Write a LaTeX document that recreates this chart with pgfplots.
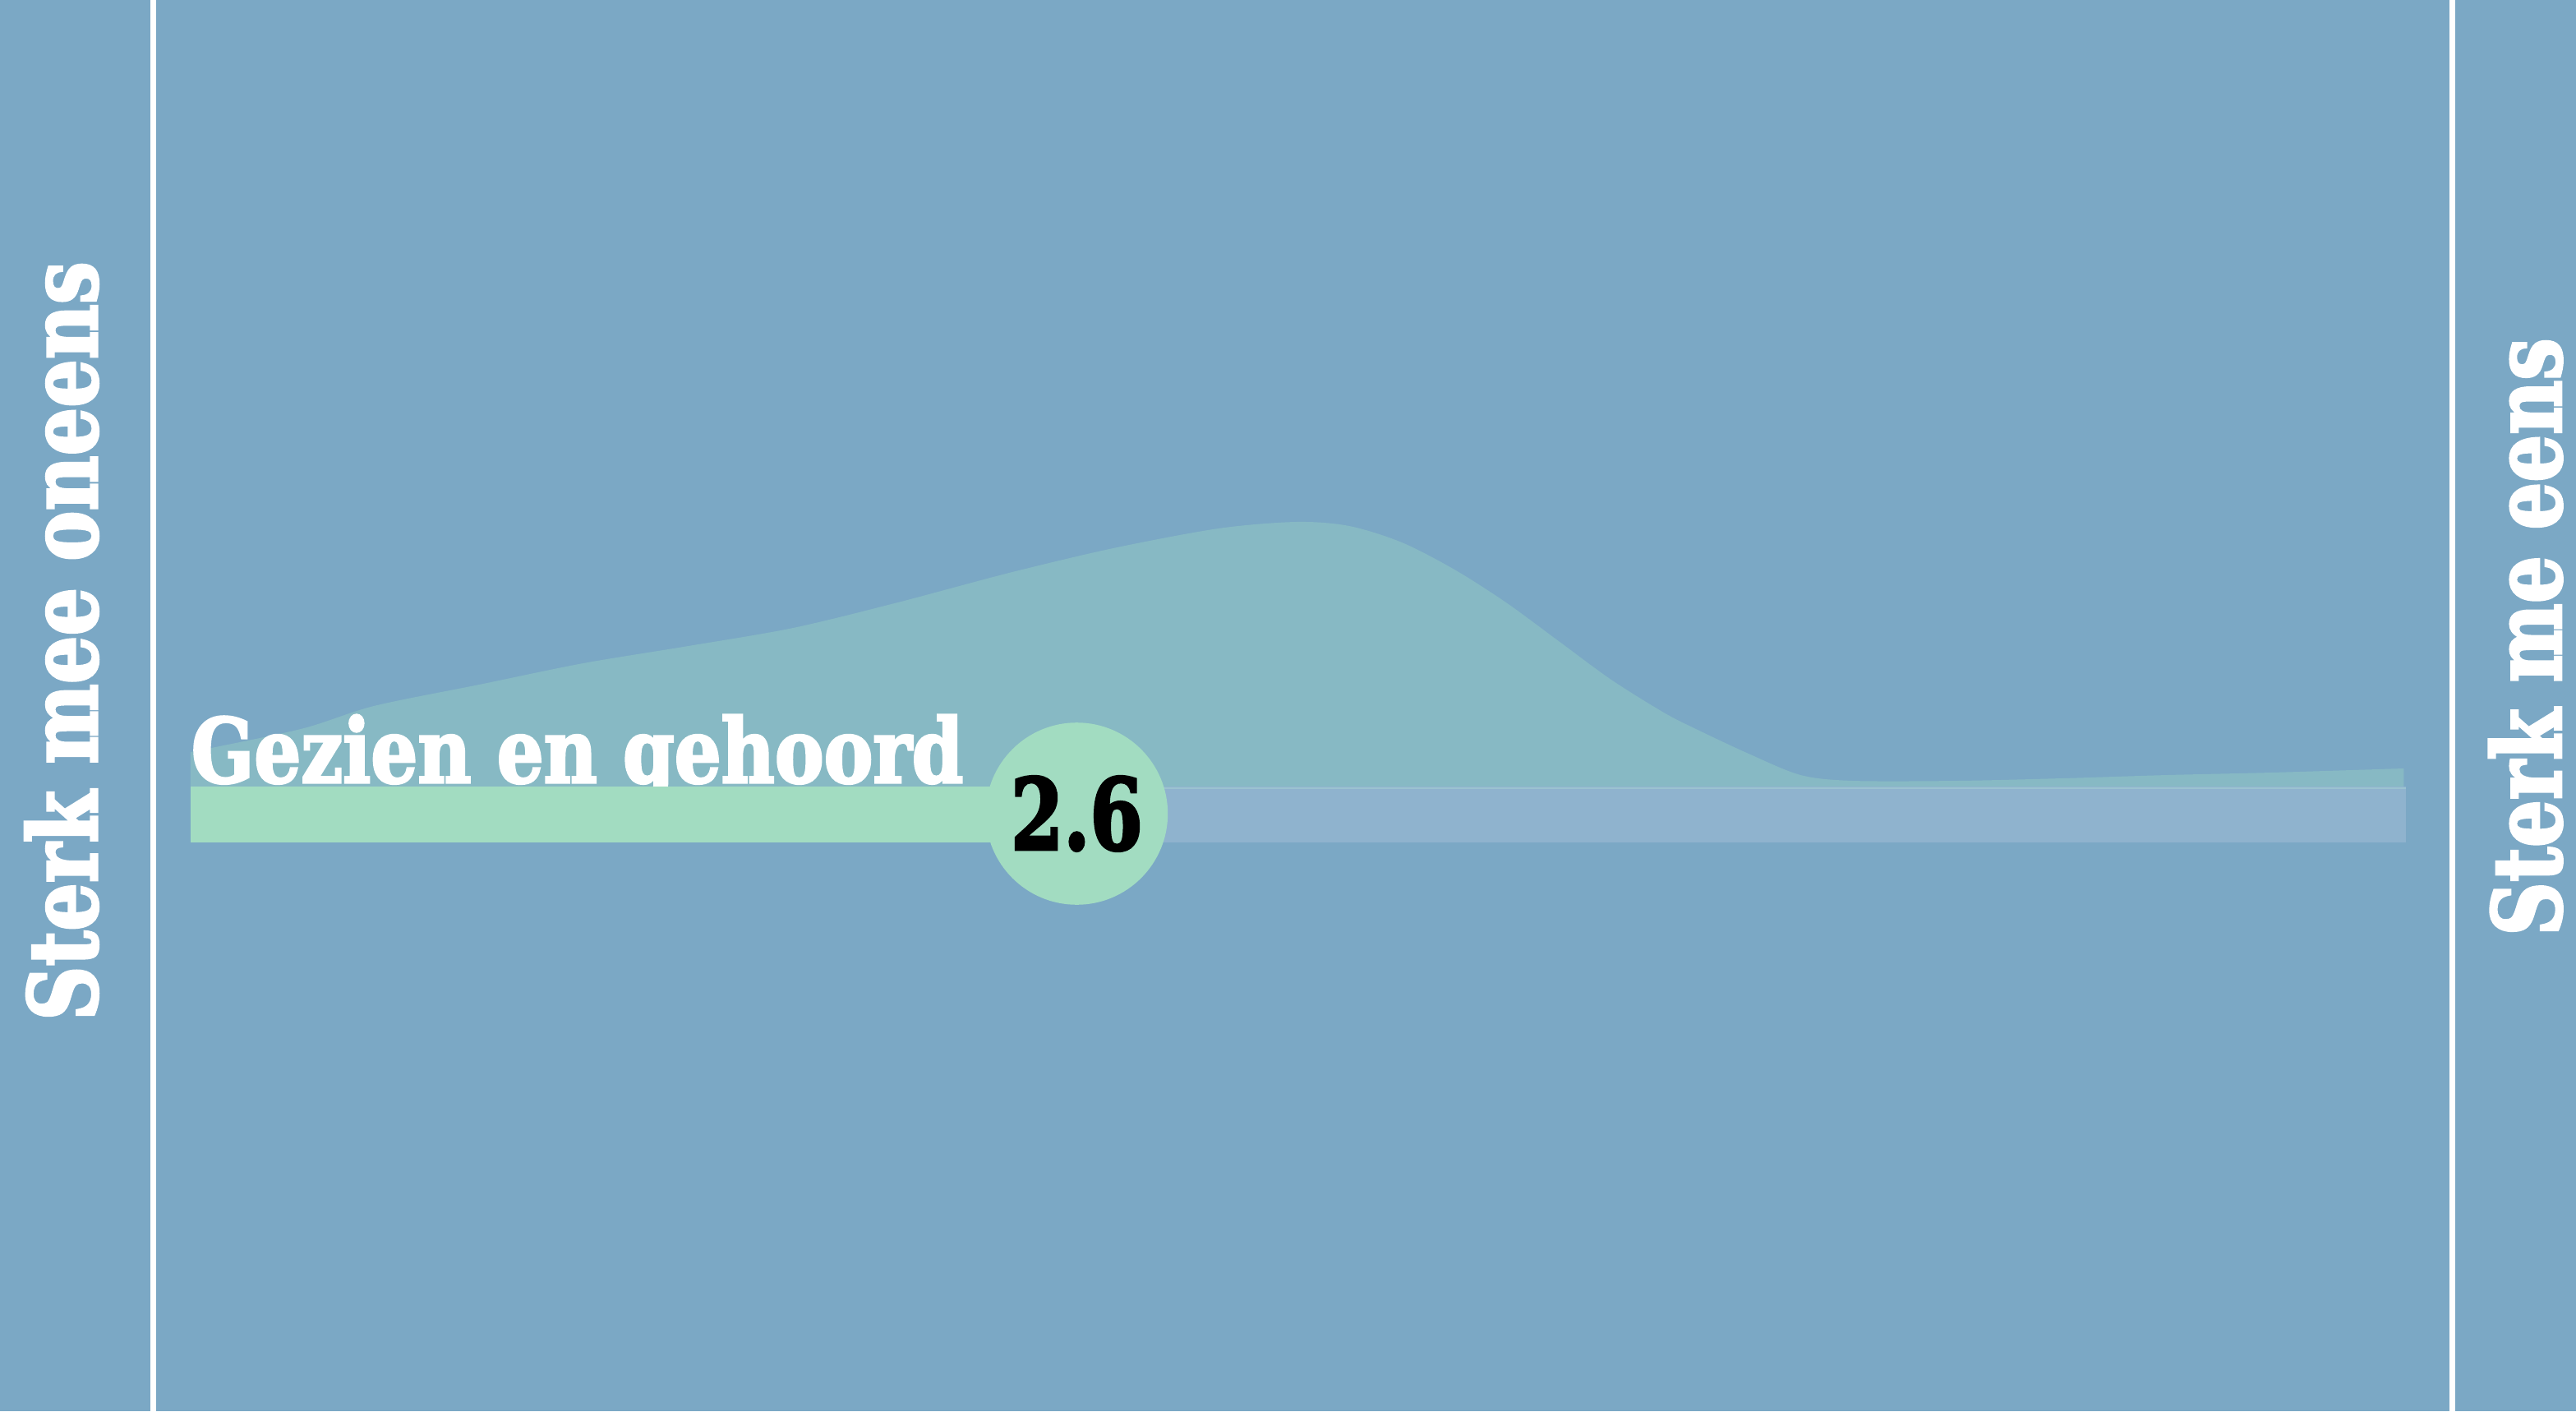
\documentclass[border=0pt]{standalone}
\usepackage{fontspec}
\setmainfont{DejaVu Serif}
\newfontfamily\slab{DejaVu Serif Bold}[FakeBold=3]
\usepackage{pgfplots}
\usepackage{pgfplotstable}
\pgfplotsset{compat=1.18}
\definecolor{bgblue}{HTML}{7BA8C5}
\definecolor{densc}{HTML}{87B9C4}
\definecolor{barg}{HTML}{A2DCC1}
\definecolor{barl}{HTML}{8FB3CE}
\definecolor{barlline}{HTML}{9BC2D0}
\pgfplotstableread{
x h
1.000 42
1.199 70
1.331 98
1.521 124
1.709 150
1.899 171
2.088 193
2.277 224
2.478 260
2.666 290
2.856 314
2.997 322
3.092 317
3.187 297
3.282 264
3.375 224
3.470 177
3.565 130
3.660 90
3.718 70
3.813 40
3.907 14
4.001 7
4.191 7
4.380 10
4.570 14
4.758 17
4.996 22
}\density
\begin{document}
\begin{tikzpicture}
\begin{axis}[width=783.75pt, height=429.25pt, scale only axis,
  xmin=0.6558, xmax=5.3071, ymin=-760, ymax=957, hide axis, clip=true]
\fill[bgblue] (rel axis cs:0,0) rectangle (rel axis cs:1,1);
% density
\addplot[fill=densc, draw=none, smooth, tension=0.5] table[x=x,y=h]{\density} \closedcycle;
% label
\node[anchor=base west, inner sep=0pt, text=white, font=\slab\fontsize{27}{27}\selectfont]
  at (axis cs:1.0,5) {\scalebox{0.83}[1]{Gezien en gehoord}};
% bar
\addplot[fill=barl, draw=none] coordinates {(2.6,-68) (5,-68) (5,0) (2.6,0)} --cycle;
\addplot[barlline, line width=0.7pt] coordinates {(2.6,-2) (5,-2)};
\addplot[fill=barg, draw=none] coordinates {(1,-68) (2.6,-68) (2.6,0) (1,0)} --cycle;
% mean circle with value
\addplot[only marks, mark=*, mark size=27.5pt, color=barg, mark options={fill=barg, draw=barg},
  point meta=explicit symbolic, nodes near coords={\scalebox{0.77}[1]{\pgfplotspointmeta}},
  nodes near coords style={anchor=center, inner sep=0pt, text=black, font=\slab\fontsize{30}{30}\selectfont}]
  coordinates {(2.6,-33) [2.6]};
% white boundary lines
\addplot[white, line width=1.75pt] coordinates {(0.9318,-760) (0.9318,957)};
\addplot[white, line width=1.75pt] coordinates {(5.0831,-760) (5.0831,957)};
% end labels
\node[rotate=90, inner sep=0pt, text=white, font=\slab\fontsize{28.8}{28.8}\selectfont]
  at (axis cs:0.767,177) {\scalebox{0.8}[1]{Sterk mee oneens}};
\node[rotate=90, inner sep=0pt, text=white, font=\slab\fontsize{28.8}{28.8}\selectfont]
  at (axis cs:5.216,182) {\scalebox{0.79}[1]{Sterk me eens}};
\end{axis}
\end{tikzpicture}
\end{document}
